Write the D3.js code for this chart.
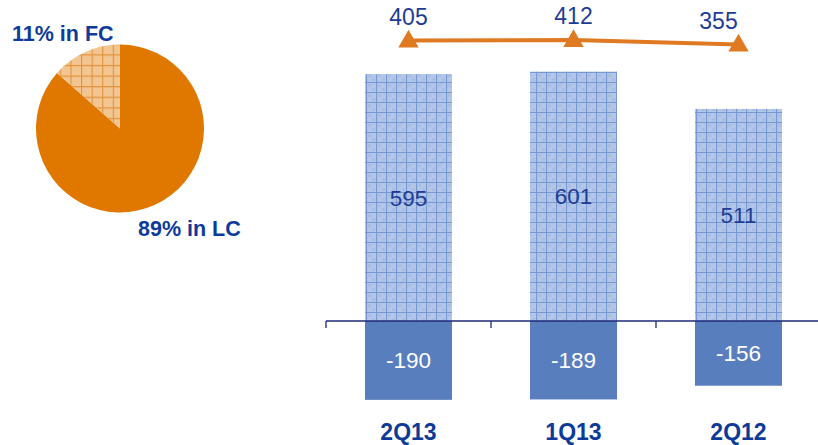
<!DOCTYPE html>
<html><head><meta charset="utf-8">
<script src="https://cdn.jsdelivr.net/npm/d3@7/dist/d3.min.js"></script>
<style>html,body{margin:0;padding:0;background:#fff;}svg{display:block;font-family:"Liberation Sans",Arial,sans-serif;}</style>
</head><body>
<script>
const categories = ["2Q13", "1Q13", "2Q12"];
const positiveValues = [595, 601, 511];
const negativeValues = [-190, -189, -156];
const lineValues = [405, 412, 355];
const pieLabels = ["89% in LC", "11% in FC"];
// slice sizes as drawn in the picture
const pieValues = [86.5, 13.5];

const W = 818, H = 445;
const svg = d3.select("body").append("svg").attr("width", W).attr("height", H);
const defs = svg.append("defs");

// bar grid pattern
const pb = defs.append("pattern").attr("id", "gridBlue").attr("patternUnits", "userSpaceOnUse")
  .attr("width", 10).attr("height", 10).attr("x", 366).attr("y", 2);
pb.append("rect").attr("width", 10).attr("height", 10).attr("fill", "#B3C6E7");
pb.append("rect").attr("x", 2).attr("y", 2).attr("width", 3).attr("height", 3).attr("fill", "#A8BDE3");
pb.append("rect").attr("x", 6).attr("y", 6).attr("width", 3).attr("height", 3).attr("fill", "#A8BDE3");
pb.append("path").attr("d", "M0,0.5H10M0.5,0V10").attr("stroke", "#7597D2").attr("stroke-width", 1.2);

// pie grid pattern
const pp = defs.append("pattern").attr("id", "gridOrange").attr("patternUnits", "userSpaceOnUse")
  .attr("width", 10.6).attr("height", 10.6).attr("x", 120).attr("y", 0);
pp.append("rect").attr("width", 10.6).attr("height", 10.6).attr("fill", "#F2C591");
pp.append("path").attr("d", "M0,0.5H10.6M0.5,0V10.6").attr("stroke", "#E2923C").attr("stroke-width", 1.2);

// ---- Pie ----
const pieG = svg.append("g").attr("transform", "translate(120,128.5)");
const arcs = d3.pie().sort(null).startAngle(0).endAngle(2 * Math.PI)(pieValues);
const arc = d3.arc().innerRadius(0).outerRadius(84);
pieG.selectAll("path").data(arcs).join("path")
  .attr("d", arc)
  .attr("fill", (d, i) => i === 0 ? "#E07800" : "url(#gridOrange)");
svg.append("text").attr("x", 12).attr("y", 41).attr("font-size", 21.5).attr("font-weight", "bold")
  .attr("fill", "#0E3B9A").text(pieLabels[1]);
svg.append("text").attr("x", 138).attr("y", 236).attr("font-size", 21.5).attr("font-weight", "bold")
  .attr("fill", "#0E3B9A").text(pieLabels[0]);

// ---- Bars ----
const p = 0.4727;
const x = d3.scaleBand().domain(categories).range([326, 821]).paddingInner(p).paddingOuter(p / 2);
const y = d3.scaleLinear().domain([-200, 600]).range([404, 72]);
const yL = d3.scaleLinear().domain([0, 450]).range([73, 37]);
const step = x.step();

const gBars = svg.append("g");
gBars.selectAll("rect.pos").data(categories).join("rect").attr("class", "pos")
  .attr("x", d => x(d)).attr("width", x.bandwidth())
  .attr("y", (d, i) => y(positiveValues[i])).attr("height", (d, i) => y(0) - y(positiveValues[i]))
  .attr("fill", "url(#gridBlue)");
gBars.selectAll("rect.neg").data(categories).join("rect").attr("class", "neg")
  .attr("x", d => x(d)).attr("width", x.bandwidth())
  .attr("y", y(0)).attr("height", (d, i) => y(negativeValues[i]) - y(0))
  .attr("fill", "#587EBE");

// axis
const axisG = svg.append("g");
axisG.append("line").attr("x1", 326).attr("x2", W).attr("y1", y(0)).attr("y2", y(0))
  .attr("stroke", "#1F2A7A").attr("stroke-width", 1.3);
const tickX = categories.map(c => x(c) - step * p / 2).concat([x(categories[categories.length - 1]) - step * p / 2 + step]);
axisG.selectAll("line.tick").data(tickX).join("line").attr("class", "tick")
  .attr("x1", d => d).attr("x2", d => d).attr("y1", y(0)).attr("y2", y(0) + 7)
  .attr("stroke", "#1F2A7A").attr("stroke-width", 1.3);

// value labels
svg.selectAll("text.pv").data(categories).join("text").attr("class", "pv")
  .attr("x", d => x(d) + x.bandwidth() / 2)
  .attr("y", (d, i) => (y(positiveValues[i]) + y(0)) / 2 + 8)
  .attr("text-anchor", "middle").attr("font-size", 22.5).attr("fill", "#1E3C96")
  .text((d, i) => positiveValues[i]);
svg.selectAll("text.nv").data(categories).join("text").attr("class", "nv")
  .attr("x", d => x(d) + x.bandwidth() / 2)
  .attr("y", (d, i) => (y(negativeValues[i]) + y(0)) / 2 + 8)
  .attr("text-anchor", "middle").attr("font-size", 22.5).attr("fill", "#FFFFFF")
  .text((d, i) => negativeValues[i]);

// category labels
svg.selectAll("text.cat").data(categories).join("text").attr("class", "cat")
  .attr("x", d => x(d) + x.bandwidth() / 2).attr("y", 440)
  .attr("text-anchor", "middle").attr("font-size", 23).attr("font-weight", "bold").attr("fill", "#0D3A99")
  .text(d => d);

// line
const cx = d => x(d) + x.bandwidth() / 2;
const line = d3.line().x((d, i) => cx(categories[i])).y(d => yL(d));
svg.append("path").datum(lineValues).attr("d", line).attr("fill", "none")
  .attr("stroke", "#E07A22").attr("stroke-width", 4);
const tri = d3.symbol().type(d3.symbolTriangle).size(180);
svg.selectAll("path.tri").data(lineValues).join("path").attr("class", "tri")
  .attr("transform", (d, i) => `translate(${cx(categories[i])},${yL(d) + 1})`)
  .attr("d", tri).attr("fill", "#E07A22");
const lineLabelDx = [0, 0, -20];
svg.selectAll("text.lv").data(lineValues).join("text").attr("class", "lv")
  .attr("x", (d, i) => cx(categories[i]) + lineLabelDx[i])
  .attr("y", d => yL(d) - 16)
  .attr("text-anchor", "middle").attr("font-size", 23).attr("fill", "#1E3C96")
  .text(d => d);
</script>
</body></html>
